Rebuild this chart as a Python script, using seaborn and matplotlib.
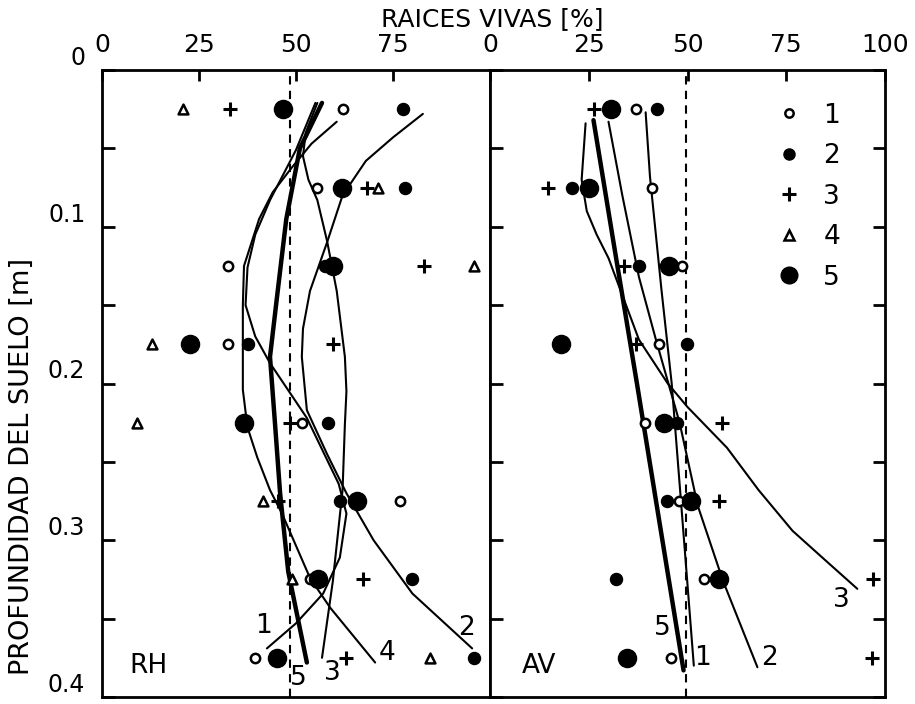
import numpy as np
import pandas as pd
import matplotlib
matplotlib.use("Agg")
import matplotlib.pyplot as plt
from matplotlib.lines import Line2D
import seaborn as sns

# ---------------- data ----------------
depths = [0.025, 0.075, 0.125, 0.175, 0.225, 0.275, 0.325, 0.375]

# RH panel (left) - measured points, % live roots
rh_s1 = [62.0, 55.4, 32.5, 32.5, 51.5, 76.8, 53.6, 39.4]
rh_s2 = [77.6, 78.0, 57.5, 37.7, 58.3, 61.3, 80.0, 96.0]
rh_s3 = [33.0, 68.3, 83.0, 59.6, 48.5, 45.4, 67.3, 63.0]
rh_s4 = [21.0, 71.1, 96.0, 12.9, 9.0, 41.5, 49.0, 84.5]
rh_s5 = [46.6, 61.8, 59.5, 22.7, 36.7, 65.7, 55.7, 45.0]

# AV panel (right)
av_s1 = [36.9, 40.9, 48.6, 42.7, 39.2, 47.8, 54.2, 45.8]
av_s2 = [42.2, 20.7, 37.7, 49.9, 47.3, 44.8, 32.0, np.nan]
av_s3 = [26.3, 14.6, 33.8, 36.9, 58.8, 58.0, 97.0, 96.7]
av_s5 = [30.6, 25.0, 45.3, 18.0, 44.0, 50.9, 58.0, 34.6]

# fitted curves: (value, depth)
rh_c1_x = [55.0, 50.0, 43.3, 39.5, 37.5, 37.0, 39.5, 43.3, 52.8, 61.0, 63.0, 61.3, 57.0, 50.0, 42.5]
rh_c1_d = [0.021, 0.051, 0.083, 0.105, 0.126, 0.150, 0.170, 0.187, 0.222, 0.264, 0.283, 0.311, 0.334, 0.353, 0.369]
rh_c2_x = [82.7, 75.0, 68.0, 62.0, 58.0, 53.6, 51.8, 51.5, 52.8, 58.0, 63.0, 70.0, 80.0, 95.4]
rh_c2_d = [0.028, 0.043, 0.058, 0.080, 0.110, 0.141, 0.165, 0.183, 0.217, 0.245, 0.270, 0.300, 0.334, 0.369]
rh_c3_x = [55.5, 52.5, 51.8, 53.2, 55.5, 58.0, 60.5, 62.6, 63.0, 62.6, 62.0, 59.5, 56.7]
rh_c3_d = [0.021, 0.040, 0.055, 0.070, 0.083, 0.109, 0.141, 0.183, 0.205, 0.226, 0.268, 0.326, 0.375]
rh_c4_x = [60.5, 54.0, 49.0, 44.0, 40.5, 36.6, 36.3, 36.3, 37.5, 40.0, 43.3, 46.4, 53.6, 58.8, 70.4]
rh_c4_d = [0.033, 0.047, 0.062, 0.078, 0.095, 0.125, 0.150, 0.204, 0.228, 0.247, 0.268, 0.283, 0.324, 0.343, 0.378]
rh_c5_x = [56.7, 51.0, 47.5, 45.0, 43.3, 44.6, 45.9, 48.0, 52.8]
rh_c5_d = [0.021, 0.050, 0.095, 0.147, 0.183, 0.226, 0.270, 0.320, 0.378]

av_c1_x = [39.4, 40.5, 43.4, 46.0, 48.5, 51.6]
av_c1_d = [0.027, 0.068, 0.140, 0.200, 0.280, 0.380]
av_c2_x = [30.0, 33.5, 37.7, 42.0, 48.0, 52.6, 59.0, 67.7]
av_c2_d = [0.033, 0.080, 0.132, 0.172, 0.225, 0.278, 0.326, 0.381]
av_c3_x = [24.2, 23.2, 24.5, 27.0, 30.0, 37.7, 45.0, 50.0, 60.0, 68.0, 76.6, 85.0, 93.0]
av_c3_d = [0.034, 0.070, 0.090, 0.105, 0.120, 0.172, 0.200, 0.215, 0.241, 0.268, 0.294, 0.313, 0.331]
av_c5_x = [26.2, 31.6, 37.2, 43.0, 49.0]
av_c5_d = [0.032, 0.115, 0.200, 0.290, 0.383]

ref_left = 48.5
ref_right = 49.5

x_ticks_left = [0, 25, 50, 75]
x_ticks_right = [0, 25, 50, 75, 100]
y_ticks = [0.0, 0.05, 0.1, 0.15, 0.2, 0.25, 0.3, 0.35, 0.4]
y_labels = ["0", "", "0.1", "", "0.2", "", "0.3", "", "0.4"]
legend_labels = ["1", "2", "3", "4", "5"]

# ---------------- style ----------------
sns.set_style("ticks")
plt.rcParams["font.family"] = ["DejaVu Sans"]
plt.rcParams["axes.linewidth"] = 2.0
for k in ["text.color", "axes.labelcolor", "xtick.color", "ytick.color", "axes.edgecolor"]:
    plt.rcParams[k] = "black"

fig = plt.figure(figsize=(9.15, 7.04), dpi=100)
W, H = 915, 704
top_px, bot_px = 70, 697
axL = fig.add_axes([102 / W, 1 - bot_px / H, (490 - 102) / W, (bot_px - top_px) / H])
axR = fig.add_axes([490 / W, 1 - bot_px / H, (885 - 490) / W, (bot_px - top_px) / H])

marker_specs = {
    1: dict(marker="o", s=45, facecolor="white", edgecolor="black", linewidth=1.8),
    2: dict(marker="o", s=75, facecolor="black", edgecolor="black", linewidth=1),
    3: dict(marker="+", s=90, color="black", linewidth=2.2),
    4: dict(marker="^", s=50, facecolor="white", edgecolor="black", linewidth=1.8),
    5: dict(marker="o", s=170, facecolor="black", edgecolor="black", linewidth=1),
}


def points(ax, xs, key):
    df = pd.DataFrame({"v": xs, "d": depths}).dropna()
    spec = dict(marker_specs[key])
    if key == 3:
        sns.scatterplot(data=df, x="v", y="d", ax=ax, marker="+", s=spec["s"],
                        color="black", linewidth=spec["linewidth"], zorder=5)
    else:
        sns.scatterplot(data=df, x="v", y="d", ax=ax, marker=spec["marker"], s=spec["s"],
                        facecolor=spec["facecolor"], edgecolor=spec["edgecolor"],
                        linewidth=spec["linewidth"], zorder=5)


def curve(ax, xs, ds, lw):
    df = pd.DataFrame({"v": xs, "d": ds})
    sns.lineplot(data=df, x="v", y="d", ax=ax, sort=False, estimator=None,
                 color="black", linewidth=lw, zorder=4)


# left panel
for xs, ds in [(rh_c1_x, rh_c1_d), (rh_c2_x, rh_c2_d), (rh_c3_x, rh_c3_d), (rh_c4_x, rh_c4_d)]:
    curve(axL, xs, ds, 1.5)
curve(axL, rh_c5_x, rh_c5_d, 3.2)
for k, xs in zip([1, 2, 3, 4, 5], [rh_s1, rh_s2, rh_s3, rh_s4, rh_s5]):
    points(axL, xs, k)
axL.axvline(ref_left, color="black", linestyle=(0, (4, 3)), linewidth=1.5, zorder=3)

# right panel
for xs, ds in [(av_c1_x, av_c1_d), (av_c2_x, av_c2_d), (av_c3_x, av_c3_d)]:
    curve(axR, xs, ds, 1.5)
curve(axR, av_c5_x, av_c5_d, 3.2)
for k, xs in zip([1, 2, 3, 5], [av_s1, av_s2, av_s3, av_s5]):
    points(axR, xs, k)
axR.axvline(ref_right, color="black", linestyle=(0, (4, 3)), linewidth=1.5, zorder=3)

# axes formatting
for ax, xt in [(axL, x_ticks_left), (axR, x_ticks_right)]:
    ax.set_xlim(0, 100)
    ax.set_ylim(0.4, 0.0)
    ax.set_xlabel("")
    ax.set_ylabel("")
    ax.xaxis.tick_top()
    ax.set_xticks(xt)
    ax.set_xticklabels([str(t) for t in xt])
    ax.tick_params(axis="x", direction="in", length=8, width=2, labelsize=18, pad=9)
    ax.set_yticks(y_ticks)
    for sp in ax.spines.values():
        sp.set_visible(True)
        sp.set_linewidth(2.0)

axL.set_yticklabels(y_labels)
axL.tick_params(axis="y", direction="in", length=9, width=2, labelsize=17, pad=12)
for lab in axL.get_yticklabels():
    lab.set_verticalalignment("bottom")
axR.tick_params(axis="y", direction="in", length=9, width=2, labelleft=False,
                right=True, left=True)

# curve labels
fs = 19
for txt, x, y in [("1", 41.5, 0.355), ("5", 50.5, 0.388), ("3", 59.5, 0.385),
                  ("4", 73.5, 0.372), ("2", 94.0, 0.356), ("RH", 12.0, 0.38)]:
    axL.text(x, y, txt, fontsize=fs, ha="center", va="center")
for txt, x, y in [("5", 43.5, 0.356), ("1", 53.8, 0.375), ("2", 70.7, 0.375),
                  ("3", 89.0, 0.338), ("AV", 12.5, 0.38)]:
    axR.text(x, y, txt, fontsize=fs, ha="center", va="center")

# legend
handles = [
    Line2D([], [], linestyle="none", marker="o", markersize=6, markerfacecolor="white",
           markeredgecolor="black", markeredgewidth=1.8),
    Line2D([], [], linestyle="none", marker="o", markersize=8, markerfacecolor="black",
           markeredgecolor="black"),
    Line2D([], [], linestyle="none", marker="+", markersize=10, color="black",
           markeredgewidth=2.2),
    Line2D([], [], linestyle="none", marker="^", markersize=7, markerfacecolor="white",
           markeredgecolor="black", markeredgewidth=1.8),
    Line2D([], [], linestyle="none", marker="o", markersize=12, markerfacecolor="black",
           markeredgecolor="black"),
]
axR.legend(handles, legend_labels, loc="upper left", bbox_to_anchor=(0.69, 0.965),
           frameon=False, fontsize=19, handletextpad=0.7, labelspacing=0.55,
           handlelength=1.2, borderaxespad=0)

fig.text(492 / W, 1 - 19 / H, "RAICES VIVAS [%]", fontsize=18, ha="center", va="center",
         family=["DejaVu Sans Condensed", "DejaVu Sans"])
fig.text(22 / W, 1 - 466 / H, "PROFUNDIDAD DEL SUELO [m]", fontsize=19.5, rotation=90,
         ha="center", va="center")

fig.savefig("out.png", dpi=100)
